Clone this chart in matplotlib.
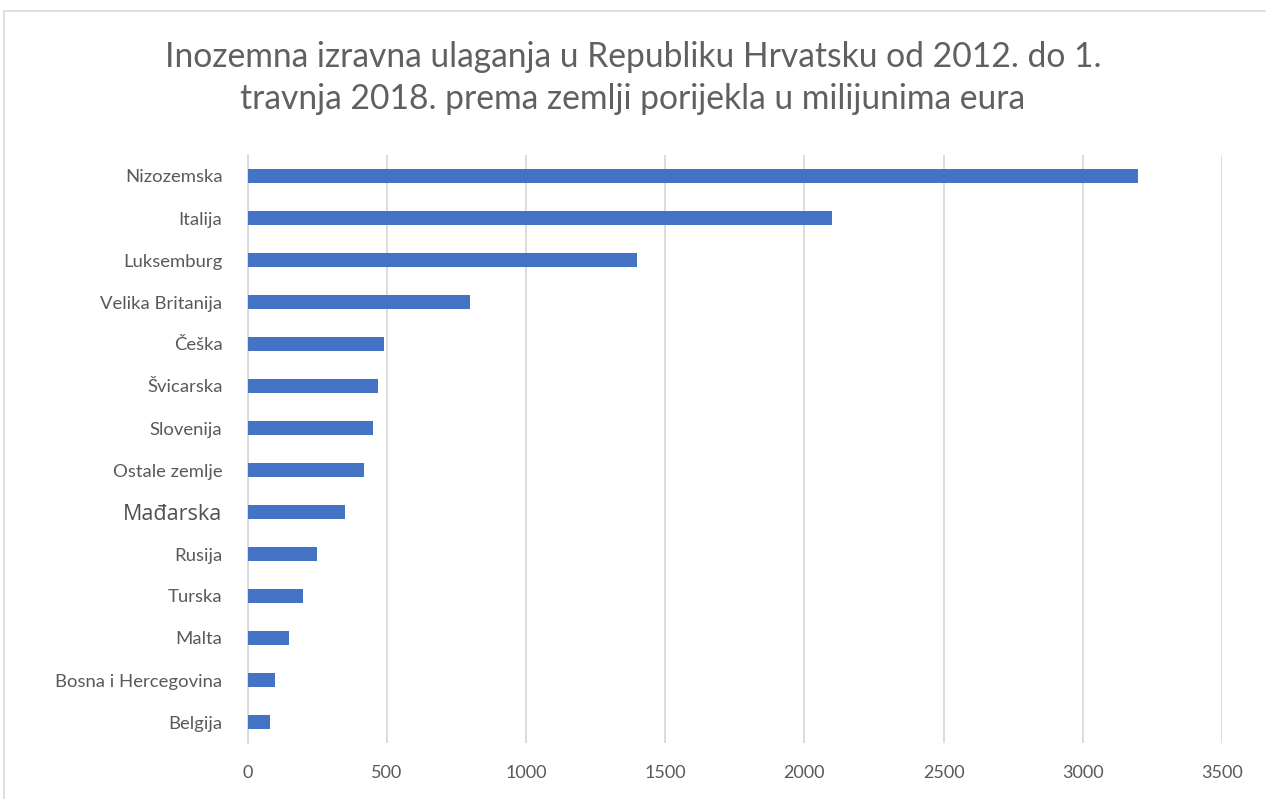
import matplotlib
matplotlib.use("Agg")
import matplotlib.pyplot as plt
from matplotlib.patches import Rectangle

zemlje = ["Nizozemska", "Italija", "Luksemburg", "Velika Britanija", "Češka",
          "Švicarska", "Slovenija", "Ostale zemlje", "Mađarska", "Rusija",
          "Turska", "Malta", "Bosna i Hercegovina", "Belgija"]
ulaganja = [3200, 2100, 1400, 800, 490, 470, 450, 420, 350, 250, 200, 150, 100, 80]
x_ticks = [0, 500, 1000, 1500, 2000, 2500, 3000, 3500]

naslov = ("Inozemna izravna ulaganja u Republiku Hrvatsku od 2012. do 1.\n"
          "travnja 2018. prema zemlji porijekla u milijunima eura")

siva = "#595959"
plt.rcParams["font.family"] = ["Lato", "DejaVu Sans"]

fig = plt.figure(figsize=(12.66, 7.99), dpi=100)
ax = fig.add_axes([247.5 / 1266, 1 - 743 / 799, (1222 - 247.5) / 1266, (743 - 155) / 799])

# okvir grafikona
fig.patches.append(Rectangle((4 / 1266, -0.05), 1.1, 1 - 11 / 799 + 0.05,
                             transform=fig.transFigure, fill=False,
                             edgecolor="#d9d9d9", linewidth=1.2))

y = list(range(len(zemlje)))
ax.barh(y, ulaganja, height=0.34, color="#4472c4", zorder=3)

ax.set_ylim(len(zemlje) - 0.5, -0.5)
ax.set_xlim(0, 3500)
ax.set_xticks(x_ticks)
ax.set_xticklabels([str(t) for t in x_ticks], fontsize=13, color=siva)
ax.set_yticks(y)
ax.set_yticklabels(zemlje, fontsize=13.3, color=siva)
for lbl in ax.get_yticklabels():
    if lbl.get_text() == "Mađarska":
        lbl.set_fontfamily(["Open Sans", "DejaVu Sans"])
        lbl.set_fontsize(15.5)
        lbl.set_color("#505050")

ax.tick_params(axis="both", length=0)
ax.tick_params(axis="y", pad=18)
ax.tick_params(axis="x", pad=16)
ax.grid(axis="x", color="#d9d9d9", linewidth=1.3, zorder=0)
for s in ["top", "right", "bottom"]:
    ax.spines[s].set_visible(False)
ax.spines["left"].set_color("#d9d9d9")
ax.spines["left"].set_linewidth(1.3)

fig.text(633 / 1266, 1 - 78 / 799, naslov, ha="center", va="center",
         fontsize=24.2, color="#606060", linespacing=1.4)

fig.savefig("out.png", dpi=100)
